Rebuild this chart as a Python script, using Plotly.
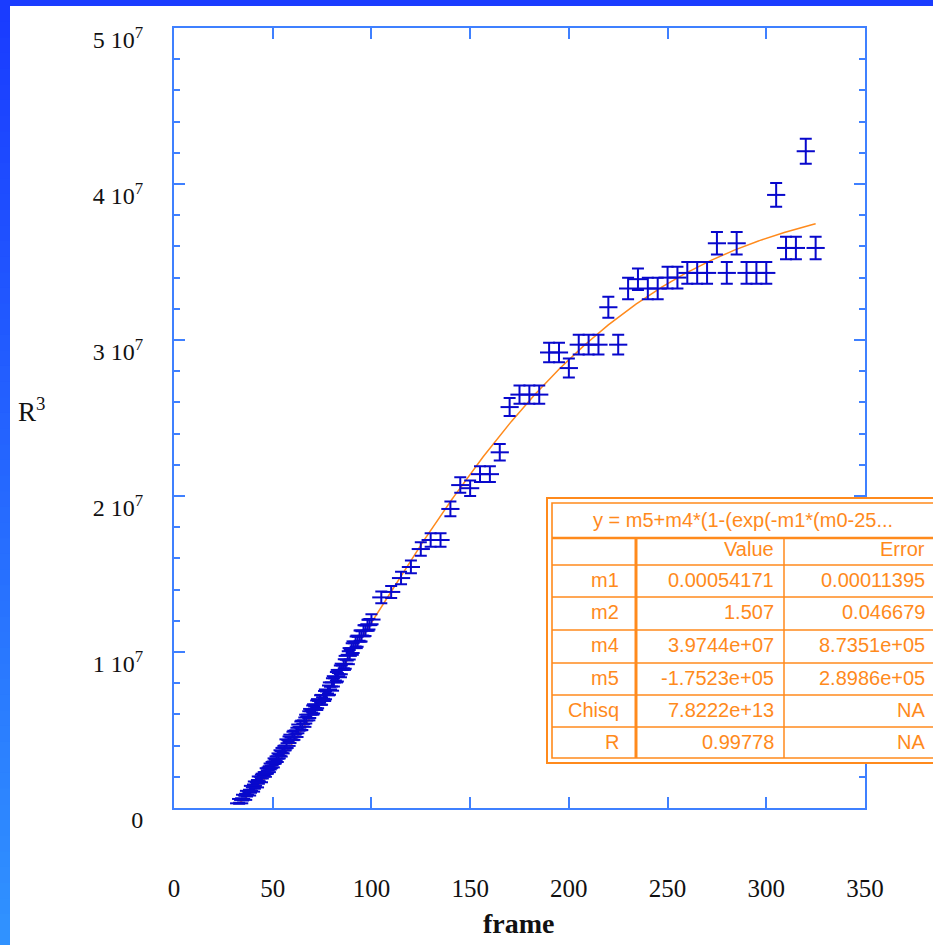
import math
import plotly.graph_objects as go

# ---- measurements: frame number and R^3 (in units of 10^6) ----
frame_early = [33, 34, 35, 36, 37, 38, 39, 40, 41, 42, 43, 44, 45, 46, 47, 48, 49, 50,
               51, 52, 53, 54, 55, 56, 57, 58, 59, 60, 61, 62, 63, 64, 65, 66, 67, 68,
               69, 70, 71, 72, 73, 74, 75, 76, 77, 78, 79, 80, 81, 82, 83, 84, 85, 86,
               87, 88, 89, 90, 91, 92, 93, 94, 95, 96, 97, 98, 99, 100]
r3_early = [0.30, 0.58, 0.52, 0.85, 0.80, 1.10, 1.05, 1.42, 1.32, 1.70, 1.65, 2.02,
            2.00, 2.20, 2.30, 2.55, 2.60, 2.85, 2.95, 3.18, 3.30, 3.50, 3.70, 3.85,
            3.98, 4.40, 4.35, 4.70, 4.55, 4.95, 4.98, 5.35, 5.20, 5.60, 5.62, 5.98,
            5.98, 6.35, 6.28, 6.65, 6.62, 6.98, 6.86, 7.25, 7.22, 7.60, 7.52, 8.05,
            8.05, 8.45, 8.38, 8.85, 8.85, 9.25, 9.22, 9.75, 9.82, 10.25, 10.25, 10.68,
            10.66, 11.05, 11.00, 11.38, 11.36, 11.72, 11.78, 12.08]

frame_late = [105, 110, 115, 120, 125, 130, 135, 140, 145, 150, 155, 160, 165, 170,
              175, 180, 185, 190, 195, 200, 205, 210, 215, 220, 225, 230, 235, 240,
              245, 250, 255, 260, 265, 270, 275, 280, 285, 290, 295, 300, 305, 310,
              315, 320, 325]
r3_late = [13.5, 13.85, 14.74, 15.45, 16.6, 17.18, 17.18, 19.17, 20.7, 20.5, 21.4,
           21.4, 22.8, 25.7, 26.5, 26.5, 26.5, 29.2, 29.2, 28.2, 29.7, 29.7, 29.7,
           32.1, 29.7, 33.3, 33.9, 33.3, 33.3, 34.0, 34.0, 34.3, 34.3, 34.3, 36.2,
           34.3, 36.2, 34.3, 34.3, 34.3, 39.3, 35.9, 35.9, 42.1, 35.9]
UNIT = 1e6
# uncertainty on the radius itself; propagated to R^3 as 3 R^2 dR
R_ERR = 2.2

# ---- fit y = m5 + m4*(1 - exp(-m1*(frame-25)^m2)) ----
fit_formula = "y = m5+m4*(1-(exp(-m1*(m0-25..."
m1, m2, m4, m5 = 0.00054171, 1.507, 3.9744e7, -1.7523e5
m1_err, m2_err, m4_err, m5_err = 0.00011395, 0.046679, 8.7351e5, 2.8986e5
chisq = 7.8222e13
r_fit = 0.99778
fit_start, fit_end = 33, 325

# ---- axes ----
x_tick_vals = [0, 50, 100, 150, 200, 250, 300, 350]
y_tick_vals = [0, 1e7, 2e7, 3e7, 4e7, 5e7]
y_tick_text = ["0", "1 10<sup>7</sup>", "2 10<sup>7</sup>", "3 10<sup>7</sup>",
               "4 10<sup>7</sup>", "5 10<sup>7</sup>"]

# ---- page geometry (pixels) ----
FIG_W, FIG_H = 933, 945
PL, PR, PT, PB = 174, 865, 28, 808
PW, PH = PR - PL, PB - PT


def xp(px):
    return (px - PL) / PW


def yp(py):
    return (PB - py) / PH


BLUE = "#0808cc"
AXIS = "#3f80ff"
ORANGE = "#ff8a1c"
SERIF = "Liberation Serif, Times New Roman, serif"
SANS = "Liberation Sans, Arial, sans-serif"

frames = frame_early + frame_late
r3 = [v * UNIT for v in r3_early + r3_late]
r3_err = [3 * (abs(v) ** (1.0 / 3.0)) ** 2 * R_ERR for v in r3]

fit_x = [fit_start + 0.5 * i for i in range(int((fit_end - fit_start) / 0.5) + 1)]
fit_y = [m5 + m4 * (1 - math.exp(-m1 * (f - 25) ** m2)) for f in fit_x]

fig = go.Figure()
# fit curve first so the measurement crosses sit on top of it
fig.add_trace(go.Scatter(
    x=fit_x, y=fit_y, mode="lines",
    line=dict(color=ORANGE, width=1.5),
    hoverinfo="skip", showlegend=False,
))
fig.add_trace(go.Scatter(
    x=frames, y=r3, mode="markers",
    marker=dict(symbol="line-ew", size=13, color=BLUE,
                line=dict(color=BLUE, width=2)),
    error_y=dict(type="data", array=r3_err, color=BLUE, thickness=2, width=6),
    hoverinfo="x+y", showlegend=False,
))

shapes = []

# blue slide frame: top band and left band shading lighter downwards
shapes.append(dict(type="rect", xref="paper", yref="paper",
                   x0=xp(-5), x1=xp(FIG_W + 5), y0=yp(6), y1=yp(-5),
                   fillcolor="#1a3cff", line=dict(width=0), layer="below"))
top_rgb, bot_rgb = (26, 60, 255), (48, 146, 255)
n_seg = 60
for i in range(n_seg):
    t = i / (n_seg - 1)
    c = tuple(round(a + (b - a) * t) for a, b in zip(top_rgb, bot_rgb))
    y0 = 6 + (FIG_H - 6) * i / n_seg
    y1 = 6 + (FIG_H - 6) * (i + 1) / n_seg + 1
    shapes.append(dict(type="rect", xref="paper", yref="paper",
                       x0=xp(-5), x1=xp(10), y0=yp(y1), y1=yp(y0),
                       fillcolor="rgb(%d,%d,%d)" % c, line=dict(width=0),
                       layer="below"))

# results table: white box with double orange border
TX0, TX1, TY0, TY1 = 547, 960, 498, 763
shapes.append(dict(type="rect", xref="paper", yref="paper",
                   x0=xp(TX0), x1=xp(TX1), y0=yp(TY1), y1=yp(TY0),
                   fillcolor="white", line=dict(color=ORANGE, width=2),
                   layer="above"))
shapes.append(dict(type="rect", xref="paper", yref="paper",
                   x0=xp(TX0 + 5), x1=xp(TX1), y0=yp(TY1 - 5), y1=yp(TY0 + 5),
                   line=dict(color=ORANGE, width=1.6), layer="above"))

col_split1, col_split2 = 636, 784
row_lines = [538, 565, 597, 630, 663, 695, 727]
for k, ry in enumerate(row_lines):
    shapes.append(dict(type="line", xref="paper", yref="paper",
                       x0=xp(TX0 + 5), x1=xp(TX1), y0=yp(ry), y1=yp(ry),
                       line=dict(color=ORANGE, width=2.6 if k == 0 else 1.4),
                       layer="above"))
shapes.append(dict(type="line", xref="paper", yref="paper",
                   x0=xp(col_split1), x1=xp(col_split1), y0=yp(538), y1=yp(TY1 - 5),
                   line=dict(color=ORANGE, width=3), layer="above"))
shapes.append(dict(type="line", xref="paper", yref="paper",
                   x0=xp(col_split2), x1=xp(col_split2), y0=yp(538), y1=yp(TY1 - 5),
                   line=dict(color=ORANGE, width=1.5), layer="above"))

annotations = []


def cell(text, x_right, y_mid, anchor="right"):
    annotations.append(dict(text=text, xref="paper", yref="paper",
                            x=xp(x_right), y=yp(y_mid), xanchor=anchor,
                            yanchor="middle", showarrow=False,
                            font=dict(family=SANS, size=20, color=ORANGE)))


cell(fit_formula, 743, 520, anchor="center")
cell("Value", 776, 549)
cell("Error", 927, 549)
row_names = ["m1", "m2", "m4", "m5", "Chisq", "R"]
row_values = [f"{m1}", f"{m2}", f"{m4:.4e}", f"{m5:.4e}", f"{chisq:.4e}", f"{r_fit}"]
row_errors = [f"{m1_err}", f"{m2_err}", f"{m4_err:.4e}", f"{m5_err:.4e}", "NA", "NA"]
row_mid = [580, 612, 645, 678, 710, 742]
for name, val, err, ym in zip(row_names, row_values, row_errors, row_mid):
    cell(name, 621, ym)
    cell(val, 776, ym)
    cell(err, 927, ym)

# axis titles
annotations.append(dict(text="R<sup>3</sup>", xref="paper", yref="paper",
                        x=xp(31), y=yp(410), xanchor="center", yanchor="middle",
                        showarrow=False, font=dict(family=SERIF, size=27, color="#111")))
annotations.append(dict(text="<b>frame</b>", xref="paper", yref="paper",
                        x=xp(519), y=yp(924), xanchor="center", yanchor="middle",
                        showarrow=False, font=dict(family=SERIF, size=28, color="#111")))

fig.update_layout(
    width=FIG_W, height=FIG_H,
    margin=dict(l=PL, r=FIG_W - PR, t=PT, b=FIG_H - PB, pad=0, autoexpand=False),
    paper_bgcolor="white", plot_bgcolor="white",
    shapes=shapes, annotations=annotations, showlegend=False,
)
fig.update_xaxes(
    range=[0, 350], tickvals=x_tick_vals, showgrid=False, zeroline=False,
    automargin=False,
    showline=True, linecolor=AXIS, linewidth=2, mirror="allticks",
    ticks="inside", ticklen=11, tickwidth=2, tickcolor=AXIS,
    ticklabelstandoff=57,
    tickfont=dict(family=SERIF, size=25, color="#111"),
)
fig.update_yaxes(
    range=[0, 5e7], tickvals=y_tick_vals, ticktext=y_tick_text,
    showgrid=False, zeroline=False, automargin=False,
    showline=True, linecolor=AXIS, linewidth=2, mirror="allticks",
    ticks="inside", ticklen=11, tickwidth=2, tickcolor=AXIS,
    minor=dict(dtick=2e6, ticks="inside", ticklen=6, tickwidth=2, tickcolor=AXIS,
               showgrid=False),
    ticklabelstandoff=24, ticklabelshift=12,
    tickfont=dict(family=SERIF, size=24, color="#111"),
)

fig.write_html("out.html")
